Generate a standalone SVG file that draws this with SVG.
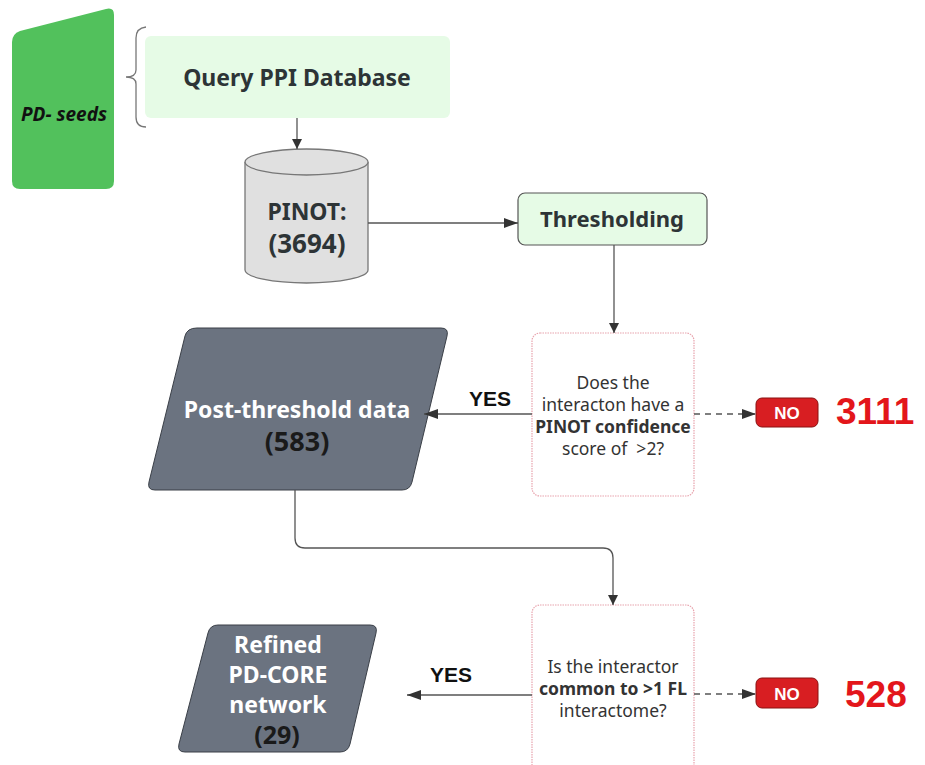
<svg xmlns="http://www.w3.org/2000/svg" width="925" height="765" viewBox="0 0 925 765">
<defs>
<marker id="ah" viewBox="0 0 10 10" refX="10" refY="5" markerWidth="10" markerHeight="10" markerUnits="userSpaceOnUse" orient="auto"><path d="M0,0 L10,5 L0,10 z" fill="#333"/></marker>
<marker id="ahL" viewBox="0 0 14 10" refX="14" refY="5" markerWidth="14" markerHeight="10" markerUnits="userSpaceOnUse" orient="auto"><path d="M0,0 L14,5 L0,10 z" fill="#333"/></marker>
</defs>
<style>
.t{font-family:"Noto Sans","Open Sans",sans-serif;font-weight:bold;text-anchor:middle;}
.dk{fill:#2d3436;}
.wh{fill:#ffffff;}
.q{font-family:"Noto Sans","Open Sans",sans-serif;font-size:17.5px;fill:#333;text-anchor:middle;}
.qb{font-weight:bold;}
.lbl{font-family:"Liberation Sans",Arial,sans-serif;font-weight:bold;font-size:21px;fill:#111;text-anchor:middle;}
.num{font-family:"Liberation Sans",Arial,sans-serif;font-weight:bold;font-size:37px;fill:#e3161b;}
.no{fill:#d81e22;stroke:#8a1010;stroke-width:1;}
.notx{font-family:"Liberation Sans",Arial,sans-serif;font-weight:bold;font-size:17px;fill:#fff;text-anchor:middle;}
.dec{fill:#fff;stroke:#e8a3ad;stroke-width:1.2;stroke-dasharray:1.5 1;}
.con{fill:none;stroke:#555;stroke-width:1.3;}
.green{fill:#e6fbe6;}
.para{fill:#6b7380;stroke:#3a3f47;stroke-width:1;stroke-linejoin:round;}
</style>
<g id="pd-seeds">
<path d="M12,42 Q12,34 20,31 L106,9 Q114,7 114,15 L114,181 Q114,189 106,189 L20,189 Q12,189 12,181 Z" fill="#52c15c"/>
<text x="64" y="121" class="t" font-size="19" font-style="italic" fill="#111">PD- seeds</text>
</g>
<g id="brace">
<path d="M146,27 Q136,28 136,38 L136,70 Q136,77 126,77 Q136,77 136,84 L136,117 Q136,127 146,127" fill="none" stroke="#777" stroke-width="1.3"/>
</g>
<g id="query">
<rect x="145" y="36" width="305" height="82" rx="6" class="green"/>
<text x="297" y="86" class="t dk" font-size="23">Query PPI Database</text>
</g>
<g id="pinot">
<path d="M245,162 L245,270 A61.5,13 0 0 0 368,270 L368,162" fill="#e0e0e0" stroke="#777" stroke-width="1.3"/>
<ellipse cx="306.5" cy="162" rx="61.5" ry="13" fill="#e0e0e0" stroke="#777" stroke-width="1.3"/>
<text x="307" y="220" class="t dk" font-size="23">PINOT:</text>
<text x="307" y="253" class="t dk" font-size="26">(3694)</text>
</g>
<g id="thresholding">
<rect x="518" y="193" width="189" height="52" rx="7" class="green" stroke="#555" stroke-width="1.2"/>
<text x="612" y="227" class="t dk" font-size="22">Thresholding</text>
</g>
<g id="decision1">
<rect x="532" y="333" width="162" height="163" rx="8" class="dec"/>
<text x="613" y="389" class="q">Does the</text>
<text x="613" y="411" class="q">interacton have a</text>
<text x="613" y="433" class="q qb">PINOT confidence</text>
<text x="613" y="455" class="q">score of &#160;&gt;2?</text>
</g>
<g id="post-threshold">
<path d="M197,328 L441,328 Q449,328 447,336 L412,482 Q410,490 402,490 L155,490 Q147,490 149,482 L185,336 Q187,328 197,328 Z" class="para"/>
<text x="297" y="418" class="t wh" font-size="23">Post-threshold data</text>
<text x="297" y="451" class="t" font-size="27" fill="#1a1a1a">(583)</text>
</g>
<g id="no1">
<rect x="756" y="398" width="62" height="29" rx="6" class="no"/>
<text x="787" y="419" class="notx">NO</text>
<text x="836" y="424" class="num">3111</text>
</g>
<g id="decision2">
<rect x="532" y="605" width="162" height="170" rx="8" class="dec"/>
<text x="613" y="673" class="q">Is the interactor</text>
<text x="613" y="695" class="q qb">common to &gt;1 FL</text>
<text x="613" y="717" class="q">interactome?</text>
</g>
<g id="refined">
<path d="M218,625 Q210,625 208,633 L179,744 Q177,752 185,752 L340,752 Q348,752 350,744 L376,633 Q378,625 370,625 Z" class="para"/>
<text x="278" y="653" class="t wh" font-size="23">Refined</text>
<text x="278" y="683" class="t wh" font-size="23">PD-CORE</text>
<text x="278" y="713" class="t wh" font-size="23">network</text>
<text x="277" y="744" class="t" font-size="25" fill="#1a1a1a">(29)</text>
</g>
<g id="no2">
<rect x="756" y="678" width="62" height="30" rx="6" class="no"/>
<text x="787" y="700" class="notx">NO</text>
<text x="845" y="707" class="num">528</text>
</g>
<g id="connectors">
<line x1="297" y1="118" x2="297" y2="149" class="con" marker-end="url(#ah)"/>
<line x1="368" y1="223" x2="518" y2="223" class="con" marker-end="url(#ahL)"/>
<line x1="614" y1="245" x2="614" y2="333" class="con" marker-end="url(#ah)"/>
<line x1="532" y1="414" x2="424" y2="414" class="con" marker-end="url(#ahL)"/>
<line x1="694" y1="414" x2="756" y2="414" class="con" stroke-dasharray="6 5" marker-end="url(#ahL)"/>
<path d="M295,490 L295,538 Q295,548 305,548 L603,548 Q613,548 613,558 L613,605" class="con" marker-end="url(#ah)"/>
<line x1="532" y1="695" x2="407" y2="695" class="con" marker-end="url(#ahL)"/>
<line x1="694" y1="694" x2="756" y2="694" class="con" stroke-dasharray="6 5" marker-end="url(#ahL)"/>
</g>
<g id="labels">
<text x="490" y="406" class="lbl">YES</text>
<text x="451" y="682" class="lbl">YES</text>
</g>
</svg>
